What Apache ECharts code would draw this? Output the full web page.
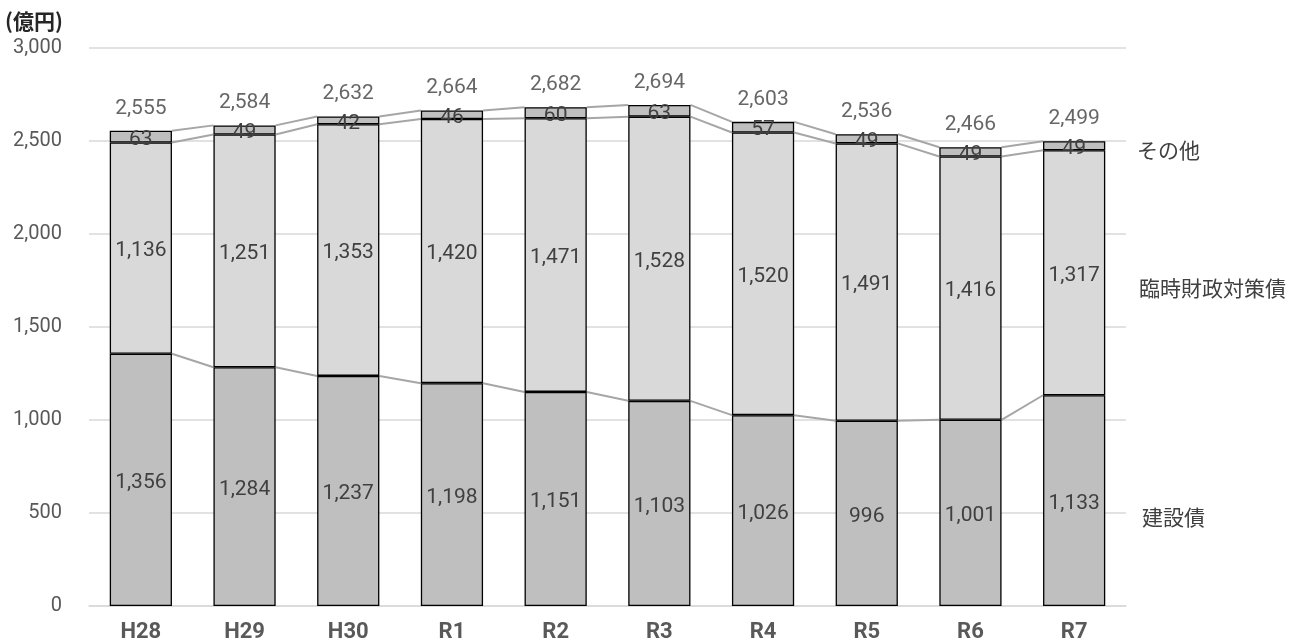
<!DOCTYPE html>
<html>
<head>
<meta charset="utf-8">
<script src="https://cdn.jsdelivr.net/npm/echarts@6/dist/echarts.min.js"></script>
<style>
  html, body { margin: 0; padding: 0; background: #fff; }
  #chart { width: 1302px; height: 643px; }
</style>
</head>
<body>
<div id="chart"></div>
<script>
// 年度（区分）
const categories = ['H28', 'H29', 'H30', 'R1', 'R2', 'R3', 'R4', 'R5', 'R6', 'R7'];
// 建設債（億円）
const kensetsu = [1356, 1284, 1237, 1198, 1151, 1103, 1026, 996, 1001, 1133];
// 臨時財政対策債（億円）
const rinji = [1136, 1251, 1353, 1420, 1471, 1528, 1520, 1491, 1416, 1317];
// その他（億円）
const sonota = [63, 49, 42, 46, 60, 63, 57, 49, 49, 49];
// 縦軸目盛
const yTicks = [0, 500, 1000, 1500, 2000, 2500, 3000];

const seriesNames = ['建設債', '臨時財政対策債', 'その他'];
const unitLabel = '(億円)';

const level1 = kensetsu.slice();
const level2 = kensetsu.map((v, i) => v + rinji[i]);
const totals = level2.map((v, i) => v + sonota[i]);

const NUM_FONT = 'Roboto, "Noto Sans CJK JP", sans-serif';
const JP_FONT = '"Noto Sans CJK JP", sans-serif';
const BAR_RATIO = 0.6;

const fmt = v => Number(v).toLocaleString('en-US');

// 棒の右端から次の棒の左端へ結ぶ区分線
function connector(values) {
  return {
    type: 'custom',
    silent: true,
    z: 1,
    data: values.slice(0, -1).map((v, i) => [i, v, values[i + 1]]),
    renderItem: function (params, api) {
      const i = api.value(0);
      const p0 = api.coord([i, api.value(1)]);
      const p1 = api.coord([i + 1, api.value(2)]);
      const half = api.size([1, 0])[0] * BAR_RATIO / 2;
      return {
        type: 'line',
        shape: { x1: p0[0] + half, y1: p0[1], x2: p1[0] - half, y2: p1[1] },
        style: { stroke: '#a6a6a6', lineWidth: 2 }
      };
    }
  };
}

function barSeries(name, data, color) {
  return {
    name: name,
    type: 'bar',
    stack: 'debt',
    barWidth: (BAR_RATIO * 100) + '%',
    z: 3,
    data: data,
    itemStyle: { color: color, borderColor: '#000', borderWidth: 1.3 },
    label: {
      show: true,
      position: 'inside',
      offset: [0, 3],
      color: '#404040',
      fontFamily: NUM_FONT,
      fontSize: 21,
      formatter: p => fmt(p.value)
    }
  };
}

const chart = echarts.init(document.getElementById('chart'), null, { renderer: 'canvas' });

chart.setOption({
  animation: false,
  backgroundColor: '#fff',
  grid: { left: 89, right: 176, top: 48, bottom: 36, containLabel: false },
  xAxis: {
    type: 'category',
    data: categories,
    axisLine: { show: true, lineStyle: { color: '#d9d9d9', width: 1.5 } },
    axisTick: { show: false },
    axisLabel: {
      color: '#595959',
      fontFamily: NUM_FONT,
      fontWeight: 'bold',
      fontSize: 22,
      margin: 15
    }
  },
  yAxis: {
    type: 'value',
    min: yTicks[0],
    max: yTicks[yTicks.length - 1],
    interval: yTicks[1] - yTicks[0],
    axisLine: { show: false },
    axisTick: { show: false },
    splitLine: { lineStyle: { color: '#d9d9d9', width: 1.5 } },
    axisLabel: {
      color: '#595959',
      fontFamily: NUM_FONT,
      fontSize: 20,
      margin: 27,
      formatter: v => fmt(v)
    }
  },
  series: [
    connector(level1),
    connector(level2),
    connector(totals),
    barSeries(seriesNames[0], kensetsu, '#bfbfbf'),
    barSeries(seriesNames[1], rinji, '#d9d9d9'),
    barSeries(seriesNames[2], sonota, '#bfbfbf'),
    {
      name: '合計',
      type: 'scatter',
      symbolSize: 0,
      z: 4,
      data: totals,
      label: {
        show: true,
        position: 'top',
        distance: 12,
        color: '#404040',
        fontFamily: NUM_FONT,
        fontSize: 21,
        formatter: p => fmt(p.value)
      }
    }
  ],
  graphic: [
    { type: 'text', x: 5, y: 21, style: { text: unitLabel, fill: '#262626', font: 'bold 21px ' + JP_FONT, textVerticalAlign: 'middle' } },
    { type: 'text', x: 1137, y: 150, style: { text: seriesNames[2], fill: '#404040', font: '21px ' + JP_FONT, textVerticalAlign: 'middle' } },
    { type: 'text', x: 1139, y: 288, style: { text: seriesNames[1], fill: '#404040', font: '21px ' + JP_FONT, textVerticalAlign: 'middle' } },
    { type: 'text', x: 1142, y: 517, style: { text: seriesNames[0], fill: '#404040', font: '21px ' + JP_FONT, textVerticalAlign: 'middle' } }
  ]
});
</script>
</body>
</html>
